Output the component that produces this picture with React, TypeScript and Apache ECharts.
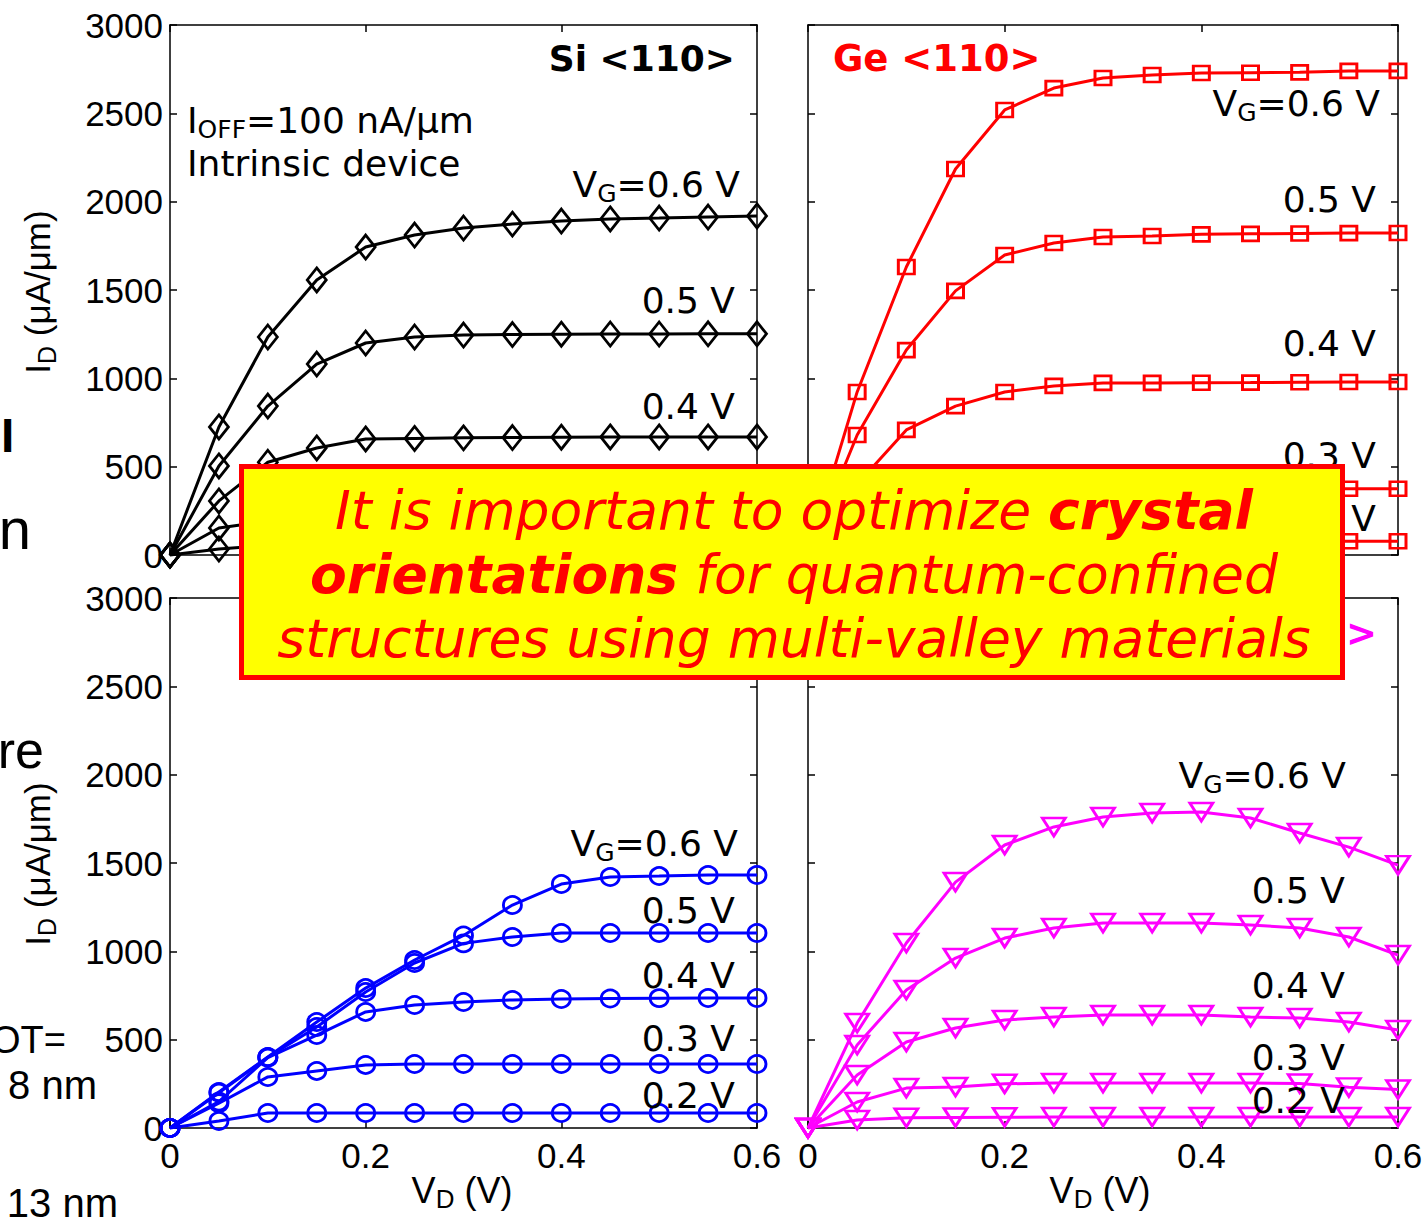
import React, { useEffect, useRef } from "react";
import * as echarts from "echarts";

// ---- data ----
const vd = [0, 0.05, 0.1, 0.15, 0.2, 0.25, 0.3, 0.35, 0.4, 0.45, 0.5, 0.55, 0.6];
const xTickLabels = ["0", "0.2", "0.4", "0.6"];
const yTickLabels = ["0", "500", "1000", "1500", "2000", "2500", "3000"];
const vgLabels = ["0.6 V", "0.5 V", "0.4 V", "0.3 V", "0.2 V"];

// Si <110> (black diamonds)
const siVG06 = [0, 725, 1234, 1557, 1743, 1811, 1851, 1873, 1890, 1902, 1907, 1913, 1919];
const siVG05 = [0, 504, 843, 1081, 1200, 1234, 1245, 1248, 1250, 1251, 1251, 1252, 1252];
const siVG04 = [0, 306, 525, 606, 657, 660, 663, 665, 667, 668, 668, 668, 668];
const siVG03 = [0, 153, 192, 203, 207, 208, 208, 208, 208, 208, 208, 208, 208];
const siVG02 = [0, 34, 55, 58, 59, 60, 60, 60, 60, 60, 60, 60, 60];

// Ge <110> (red squares)
const geVG06 = [0, 923, 1630, 2185, 2519, 2643, 2700, 2717, 2728, 2730, 2732, 2740, 2740];
const geVG05 = [0, 679, 1160, 1495, 1698, 1766, 1800, 1806, 1815, 1818, 1820, 1822, 1823];
const geVG04 = [0, 400, 708, 843, 923, 957, 974, 974, 975, 976, 978, 979, 979];
const geVG03 = [0, 230, 310, 345, 360, 367, 371, 373, 374, 375, 375, 375, 375];
const geVG02 = [0, 55, 68, 73, 75, 76, 77, 77, 78, 78, 78, 78, 78];

// bottom-left (blue circles)
const blVG06 = [0, 204, 402, 600, 792, 951, 1090, 1262, 1381, 1421, 1426, 1432, 1432];
const blVG05 = [0, 200, 400, 572, 770, 934, 1045, 1081, 1104, 1104, 1104, 1104, 1104];
const blVG04 = [0, 150, 398, 526, 657, 696, 713, 725, 730, 733, 735, 736, 736];
const blVG03 = [0, 140, 289, 323, 357, 362, 362, 362, 362, 362, 362, 362, 362];
const blVG02 = [0, 40, 85, 85, 85, 85, 85, 85, 85, 85, 85, 85, 85];

// bottom-right (magenta triangles)
const brVG06 = [0, 594, 1047, 1392, 1602, 1704, 1760, 1783, 1789, 1755, 1670, 1590, 1488];
const brVG05 = [0, 470, 781, 962, 1075, 1132, 1160, 1160, 1160, 1149, 1132, 1081, 979];
const brVG04 = [0, 300, 487, 566, 611, 628, 640, 640, 640, 628, 623, 600, 555];
const brVG03 = [0, 147, 226, 232, 250, 255, 255, 255, 255, 255, 252, 230, 218];
const brVG02 = [0, 45, 58, 60, 61, 62, 62, 62, 62, 62, 62, 62, 62];

const TICK_FONT = "Liberation Sans";
const LABEL_FONT = "DejaVu Sans";

const panels = [
  { grid: { left: 170, top: 25, width: 587, height: 530 }, color: "#000000", symbol: "diamond", size: [19, 24], rotate: 0, data: [siVG06, siVG05, siVG04, siVG03, siVG02], showX: false, showY: true },
  { grid: { left: 808, top: 25, width: 590, height: 530 }, color: "#FF0000", symbol: "rect", size: [16, 14], rotate: 0, data: [geVG06, geVG05, geVG04, geVG03, geVG02], showX: false, showY: false },
  { grid: { left: 170, top: 598, width: 587, height: 530 }, color: "#0000FF", symbol: "circle", size: [18, 17], rotate: 0, data: [blVG06, blVG05, blVG04, blVG03, blVG02], showX: true, showY: true },
  { grid: { left: 808, top: 598, width: 590, height: 530 }, color: "#FF00FF", symbol: "triangle", size: [23, 18], rotate: 180, data: [brVG06, brVG05, brVG04, brVG03, brVG02], showX: true, showY: false },
];

function richMain(size: number, color: string, extra: any = {}) {
  return { fontSize: size, fontFamily: LABEL_FONT, lineHeight: 44, fill: color, ...extra };
}
function richSub(size: number, color: string, lh = 14) {
  return { fontSize: size, fontFamily: LABEL_FONT, lineHeight: lh, verticalAlign: "bottom", fill: color };
}

function vgText(x: number, y: number, withVG: boolean, idx: number, color = "#000") {
  const text = withVG ? `{m|V}{s|G}{m|=${vgLabels[idx]}}` : `{m|${vgLabels[idx]}}`;
  return {
    type: "text",
    x,
    y,
    z: 50,
    style: {
      text,
      rich: { m: richMain(36, color), s: richSub(25, color) },
      align: "right",
      verticalAlign: "middle",
    },
  };
}

function simpleText(x: number, y: number, text: string, opts: any = {}) {
  const { size = 36, family = LABEL_FONT, weight = "normal", color = "#000", align = "left", z = 50 } = opts;
  return {
    type: "text",
    x,
    y,
    z,
    style: {
      text,
      fontSize: size,
      fontFamily: family,
      fontWeight: weight,
      fill: color,
      align,
      verticalAlign: "middle",
    },
  };
}

function yTitle(x: number, y: number) {
  return {
    type: "text",
    x,
    y,
    rotation: Math.PI / 2,
    z: 50,
    style: {
      text: "{m|I}{s|D}{m| (μA/μm)}",
      rich: {
        m: { fontSize: 35, fontFamily: TICK_FONT, lineHeight: 44, fill: "#000" },
        s: { fontSize: 25, fontFamily: TICK_FONT, lineHeight: 14, verticalAlign: "bottom", fill: "#000" },
      },
      align: "center",
      verticalAlign: "middle",
    },
  };
}

function xTitle(x: number, y: number) {
  return {
    type: "text",
    x,
    y,
    z: 50,
    style: {
      text: "{m|V}{s|D}{m| (V)}",
      rich: {
        m: { fontSize: 36, fontFamily: TICK_FONT, lineHeight: 44, fill: "#000" },
        s: { fontSize: 26, fontFamily: TICK_FONT, lineHeight: 10, verticalAlign: "bottom", fill: "#000" },
      },
      align: "center",
      verticalAlign: "middle",
    },
  };
}

function buildOption() {
  const grid: any[] = [];
  const xAxis: any[] = [];
  const yAxis: any[] = [];
  const series: any[] = [];
  const lineCommon = { color: "#000", width: 1.5 };
  panels.forEach((p, pi) => {
    grid.push({ ...p.grid, containLabel: false });
    xAxis.push({
      gridIndex: pi, type: "value", min: 0, max: 0.6, interval: 0.2, position: "bottom",
      axisLine: { show: true, onZero: false, lineStyle: lineCommon },
      axisTick: { show: true, inside: true, length: 7, lineStyle: lineCommon },
      axisLabel: {
        show: p.showX, fontSize: 35, fontFamily: TICK_FONT, color: "#000", margin: 10,
        formatter: (v: number) => xTickLabels[Math.round(v / 0.2)],
      },
      splitLine: { show: false },
    });
    xAxis.push({
      gridIndex: pi, type: "value", min: 0, max: 0.6, interval: 0.2, position: "top",
      axisLine: { show: true, onZero: false, lineStyle: lineCommon },
      axisTick: { show: true, inside: true, length: 7, lineStyle: lineCommon },
      axisLabel: { show: false },
      splitLine: { show: false },
    });
    yAxis.push({
      gridIndex: pi, type: "value", min: 0, max: 3000, interval: 500, position: "left",
      axisLine: { show: true, onZero: false, lineStyle: lineCommon },
      axisTick: { show: true, inside: true, length: 7, lineStyle: lineCommon },
      axisLabel: {
        show: p.showY, fontSize: 35, fontFamily: TICK_FONT, color: "#000", margin: 7,
        formatter: (v: number) => yTickLabels[Math.round(v / 500)],
      },
      splitLine: { show: false },
    });
    yAxis.push({
      gridIndex: pi, type: "value", min: 0, max: 3000, interval: 500, position: "right",
      axisLine: { show: true, onZero: false, lineStyle: lineCommon },
      axisTick: { show: true, inside: true, length: 7, lineStyle: lineCommon },
      axisLabel: { show: false },
      splitLine: { show: false },
    });
    p.data.forEach((arr, si) => {
      series.push({
        type: "line",
        name: `p${pi}-${vgLabels[si]}`,
        xAxisIndex: pi * 2,
        yAxisIndex: pi * 2,
        data: vd.map((x, i) => [x, arr[i]]),
        symbol: p.symbol,
        symbolSize: p.size,
        symbolRotate: p.rotate,
        showAllSymbol: true,
        clip: false,
        silent: true,
        z: 3,
        lineStyle: { color: p.color, width: 3 },
        itemStyle: { color: "rgba(0,0,0,0)", borderColor: p.color, borderWidth: 2.8 },
        emphasis: { disabled: true },
      });
    });
  });

  const graphic: any[] = [
    // Si panel labels
    simpleText(735, 58, "Si <110>", { weight: "bold", align: "right", size: 36 }),
    {
      type: "text", x: 187, y: 120, z: 50,
      style: {
        text: "{m|I}{s|OFF}{m|=100 nA/μm}",
        rich: { m: richMain(36, "#000"), s: richSub(25, "#000") },
        align: "left", verticalAlign: "middle",
      },
    },
    simpleText(187, 163, "Intrinsic device", { size: 36 }),
    vgText(740, 184, true, 0),
    vgText(735, 300, false, 1),
    vgText(735, 406, false, 2),
    // Ge panel labels
    simpleText(833, 58, "Ge <110>", { weight: "bold", color: "#FF0000", size: 37 }),
    vgText(1380, 103, true, 0),
    vgText(1376, 199, false, 1),
    vgText(1376, 343, false, 2),
    vgText(1376, 455, false, 3),
    vgText(1376, 518, false, 4),
    // bottom-left labels
    vgText(738, 843, true, 0),
    vgText(735, 910, false, 1),
    vgText(735, 975, false, 2),
    vgText(735, 1038, false, 3),
    vgText(735, 1095, false, 4),
    // bottom-right labels
    simpleText(1377, 633, "Ge <100>", { weight: "bold", color: "#FF00FF", align: "right", size: 37 }),
    vgText(1346, 775, true, 0),
    vgText(1345, 890, false, 1),
    vgText(1345, 985, false, 2),
    vgText(1345, 1057, false, 3),
    vgText(1345, 1100, false, 4),
    // axis titles
    yTitle(37, 292),
    yTitle(37, 864),
    xTitle(462, 1190),
    xTitle(1100, 1190),
    // clipped slide text at left edge
    simpleText(1, 435, "I", { family: TICK_FONT, weight: "bold", size: 48 }),
    simpleText(31, 528, "n", { family: TICK_FONT, size: 58, align: "right" }),
    simpleText(44, 750, "re", { family: TICK_FONT, size: 52, align: "right" }),
    simpleText(66, 1040, "OT=", { family: TICK_FONT, size: 38, align: "right" }),
    simpleText(97, 1085, "8 nm", { family: TICK_FONT, size: 40, align: "right" }),
    simpleText(118, 1203, "13 nm", { family: TICK_FONT, size: 40, align: "right" }),
    // yellow call-out box
    {
      type: "rect", z: 100,
      shape: { x: 241.5, y: 466.5, width: 1101, height: 211 },
      style: { fill: "#FFFF00", stroke: "#FF0000", lineWidth: 5 },
    },
  ];
  const boxRich = {
    n: { fontSize: 53.5, fontFamily: LABEL_FONT, fontStyle: "italic", fill: "#FF0000", lineHeight: 60 },
    b: { fontSize: 53.5, fontFamily: LABEL_FONT, fontStyle: "italic", fontWeight: "bold", fill: "#FF0000", lineHeight: 60 },
  };
  const boxLines = [
    "{n|It is important to optimize }{b|crystal}",
    "{b|orientations}{n| for quantum-confined}",
    "{n|structures using multi-valley materials}",
  ];
  const boxY = [510, 574, 638];
  boxLines.forEach((t, i) => {
    graphic.push({
      type: "text", x: 794, y: boxY[i], z: 101,
      style: { text: t, rich: boxRich, align: "center", verticalAlign: "middle" },
    });
  });

  return {
    animation: false,
    backgroundColor: "#ffffff",
    grid,
    xAxis,
    yAxis,
    series,
    graphic,
  };
}

export default function App() {
  const ref = useRef<HTMLDivElement>(null);
  useEffect(() => {
    if (!ref.current) return;
    const chart = echarts.init(ref.current, undefined, { renderer: "svg" });
    chart.setOption(buildOption() as any);
    return () => chart.dispose();
  }, []);
  return (
    <div
      ref={ref}
      style={{ position: "absolute", left: 0, top: 0, width: 1426, height: 1220 }}
    />
  );
}
